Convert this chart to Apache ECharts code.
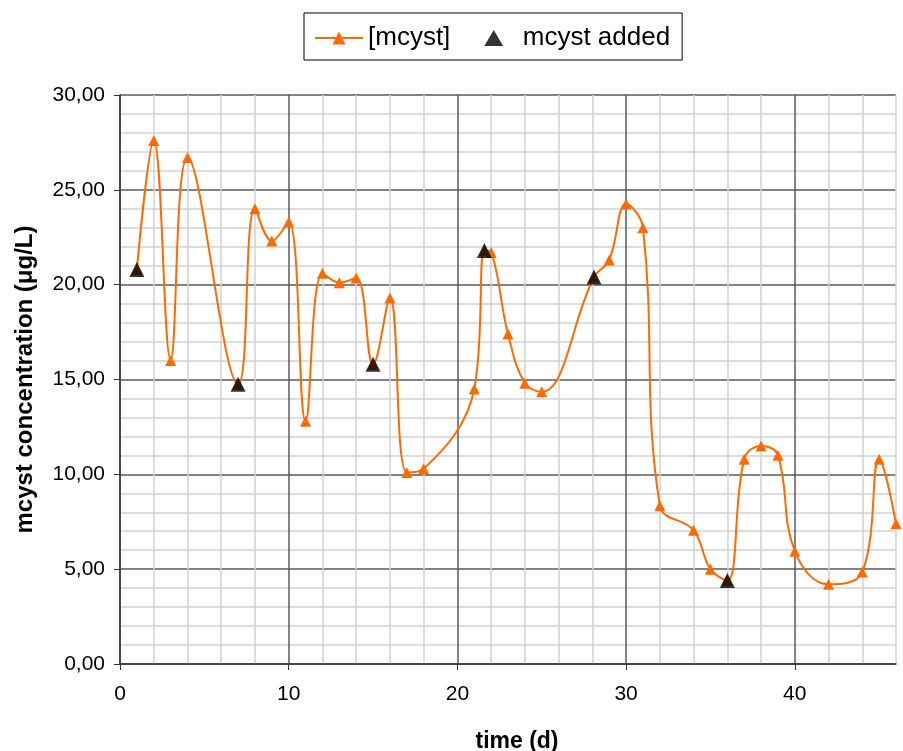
<!DOCTYPE html>
<html><head><meta charset="utf-8">
<script src="https://cdn.jsdelivr.net/npm/echarts@6/dist/echarts.min.js"></script>
<style>html,body{margin:0;padding:0;background:#fff}#c{width:903px;height:751px}</style>
</head><body><div id="c"></div>
<script>
const days = [1, 2, 3, 4, 7, 8, 9, 10, 11, 12, 13, 14, 15, 16, 17, 18, 21, 21.6, 22, 23, 24, 25, 28.1, 29, 30, 31, 32, 34, 35, 36, 37, 38, 39, 40, 42, 44, 45, 46];
const mcyst = [20.8, 27.6, 16.0, 26.7, 14.75, 24.0, 22.3, 23.3, 12.8, 20.6, 20.1, 20.35, 15.8, 19.3, 10.1, 10.3, 14.5, 21.8, 21.7, 17.4, 14.8, 14.35, 20.4, 21.3, 24.25, 23.0, 8.35, 7.05, 5.0, 4.4, 10.8, 11.5, 11.0, 5.95, 4.2, 4.85, 10.8, 7.4];
const addedDays = [1, 7, 15, 21.6, 28.1, 36];
const addedValues = [20.8, 14.75, 15.8, 21.8, 20.4, 4.4];
const xTicks = [0, 10, 20, 30, 40];
const yTicks = [0, 5, 10, 15, 20, 25, 30];

const major = '#5a5a5a', minor = '#d2d2d2';
const tri = 'path://M5,0 L10,8.5 L0,8.5 Z';
const gridLines = {show: true, lineStyle: {color: [major, minor, minor, minor, minor], width: 1.5}};
const hidden = {axisLine: {show: false}, axisTick: {show: false}, axisLabel: {show: false}};
const chart = echarts.init(document.getElementById('c'));
chart.setOption({
  animation: false,
  textStyle: {fontFamily: 'Liberation Sans, Arial, sans-serif'},
  legend: {
    left: 304, top: 13, padding: [12, 12, 9, 10], itemGap: 34,
    borderColor: '#000', borderWidth: 1,
    itemWidth: 48, itemHeight: 16,
    textStyle: {fontSize: 26, color: '#000'},
    data: ['[mcyst]', {name: 'mcyst added', icon: tri}]
  },
  grid: {left: 120, top: 95, right: 7, bottom: 87, outerBoundsMode: 'none', containLabel: false},
  xAxis: [{
    type: 'value', min: 0, max: 46, interval: 10,
    name: 'time (d)', nameLocation: 'middle', nameGap: 66,
    nameTextStyle: {fontSize: 23, fontWeight: 'bold', color: '#000', padding: [0, 0, 0, 18]},
    axisLine: {lineStyle: {color: '#333', width: 1.5}},
    axisTick: {customValues: xTicks, length: 6, lineStyle: {color: '#333'}},
    axisLabel: {customValues: xTicks, fontSize: 21, color: '#000', margin: 20},
    splitLine: {show: false}
  }, Object.assign({type: 'value', min: 0, max: 46, interval: 2, position: 'bottom', splitLine: gridLines}, hidden)],
  yAxis: [{
    type: 'value', min: 0, max: 30, interval: 5,
    name: 'mcyst concentration (μg/L)', nameLocation: 'middle', nameGap: 83,
    nameTextStyle: {fontSize: 24, fontWeight: 'bold', color: '#000'},
    axisLine: {show: true, lineStyle: {color: '#333', width: 1.5}},
    axisTick: {show: true, customValues: yTicks, length: 6, lineStyle: {color: '#333'}},
    axisLabel: {customValues: yTicks, fontSize: 21, color: '#000', margin: 15,
      formatter: v => v.toFixed(2).replace('.', ',')},
    splitLine: {show: false}
  }, Object.assign({type: 'value', min: 0, max: 30, interval: 1, position: 'left', splitLine: gridLines}, hidden)],
  series: [
    {
      name: '[mcyst]', type: 'line', smooth: 0.4,
      data: days.map((d, i) => [d, mcyst[i]]),
      symbol: 'triangle', symbolSize: 11,
      itemStyle: {color: '#ff6a00'},
      lineStyle: {color: '#ff6a00', width: 2},
      z: 3
    },
    {
      name: 'mcyst added', type: 'scatter',
      data: addedDays.map((d, i) => [d, addedValues[i]]),
      symbol: 'triangle', symbolSize: 15, symbolKeepAspect: true,
      itemStyle: {color: '#000'},
      z: 4
    }
  ]
});
</script></body></html>
